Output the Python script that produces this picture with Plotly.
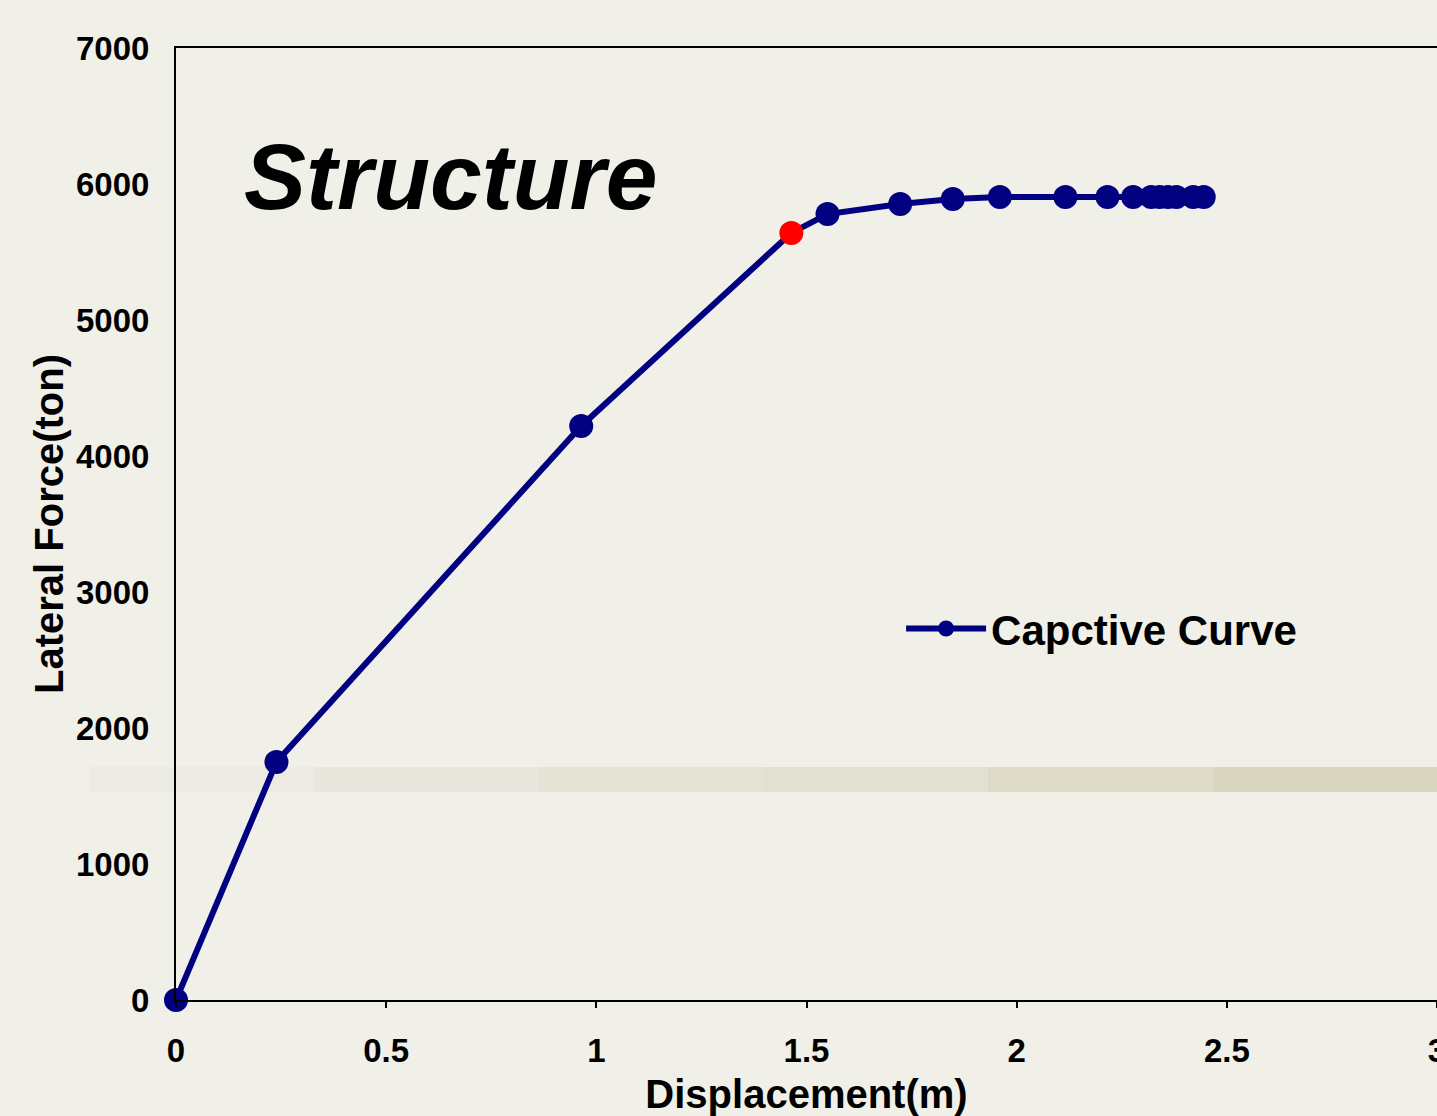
import plotly.graph_objects as go

# Data
displacement = [0.0, 0.239, 0.964, 1.464, 1.550, 1.723, 1.848, 1.960, 2.116, 2.216,
                2.277, 2.320, 2.340, 2.360, 2.380, 2.420, 2.445]
lateral_force = [0, 1750, 4221, 5640, 5779, 5853, 5890, 5904, 5904, 5904,
                 5904, 5904, 5904, 5904, 5904, 5904, 5904]
highlight_index = 3  # red point (yield point)

series_name = "Capctive Curve"
x_ticks = [0, 0.5, 1, 1.5, 2, 2.5, 3]
x_tick_labels = ["0", "0.5", "1", "1.5", "2", "2.5", "3"]
y_ticks = [0, 1000, 2000, 3000, 4000, 5000, 6000, 7000]
y_tick_labels = ["0", "1000", "2000", "3000", "4000", "5000", "6000", "7000"]

NAVY = "#000080"
BG = "#f0efe8"
FONT = "Liberation Sans, Arial, sans-serif"

marker_colors = [("#ff0000" if i == highlight_index else NAVY) for i in range(len(displacement))]

fig = go.Figure()
fig.add_trace(go.Scatter(
    x=displacement, y=lateral_force, name="<b>%s</b>" % series_name,
    mode="lines+markers",
    line=dict(color=NAVY, width=6),
    marker=dict(color=marker_colors, size=24, line=dict(width=0)),
    cliponaxis=False,
))

# faint horizontal band in the background (decoration from the slide)
band_cols = ["#ecebe3", "#e8e7dd", "#e5e3d6", "#e2e0d0", "#dedbc8", "#dad7c1"]
n = len(band_cols)
x_start, x_end = -0.069, 1.0
for i, c in enumerate(band_cols):
    fig.add_shape(type="rect", xref="paper", yref="paper",
                  x0=x_start + (x_end - x_start) * i / n,
                  x1=x_start + (x_end - x_start) * (i + 1) / n,
                  y0=0.2185, y1=0.2447, fillcolor=c, line=dict(width=0), layer="below")

fig.add_annotation(text="<b><i>Structure</i></b>", xref="paper", yref="paper",
                   x=0.052, y=0.865, xanchor="left", yanchor="middle", showarrow=False,
                   font=dict(family=FONT, size=93, color="#000000"))

fig.update_layout(
    width=1437, height=1116, autosize=False,
    paper_bgcolor=BG, plot_bgcolor="rgba(0,0,0,0)",
    margin=dict(l=176, r=0, t=48, b=116, autoexpand=False),
    font=dict(family=FONT, color="#000000"),
    showlegend=True,
    legend=dict(x=0.575, y=0.39, xanchor="left", yanchor="middle",
                bgcolor="rgba(0,0,0,0)", font=dict(family=FONT, size=42, color="#000000"),
                itemwidth=80),
    xaxis=dict(range=[0, 3], tickvals=x_ticks, ticktext=["<b>%s</b>" % t for t in x_tick_labels],
               tickfont=dict(family=FONT, size=33, color="#000000"),
               ticklabeloverflow="allow", automargin=False,
               showline=True, linecolor="#000000", linewidth=2, mirror=True,
               ticks="outside", ticklen=6, tickwidth=2, tickcolor="#000000",
               ticklabelstandoff=14,
               showgrid=False, zeroline=False,
               title=dict(text="<b>Displacement(m)</b>", standoff=14,
                          font=dict(family=FONT, size=40, color="#000000"))),
    yaxis=dict(range=[0, 7000], tickvals=y_ticks, ticktext=["<b>%s</b>" % t for t in y_tick_labels],
               tickfont=dict(family=FONT, size=33, color="#000000"),
               automargin=False,
               showline=True, linecolor="#000000", linewidth=2, mirror=False,
               ticks="", ticklabelstandoff=18,
               showgrid=False, zeroline=False,
               title=dict(text="<b>Lateral Force(ton)</b>", standoff=0,
                          font=dict(family=FONT, size=40, color="#000000"))),
)

fig.write_html("out.html", config={"displayModeBar": False},
               post_script="document.body.style.margin='0';document.body.style.background='%s';"
                           "document.documentElement.style.overflow='hidden';" % BG)
